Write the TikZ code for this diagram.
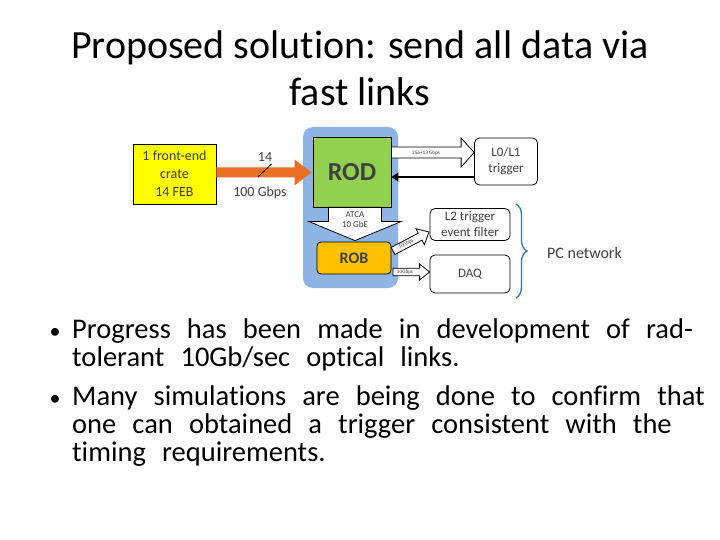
\documentclass[tikz,border=0pt]{standalone}
\usepackage{fontspec}
\setmainfont{Carlito}[Ligatures=NoCommon]
\newfontfamily\bulletfont{Carlito}[Ligatures=NoCommon, WordSpace=2.5]
\usetikzlibrary{positioning,calc,decorations.pathreplacing,arrows.meta}

\definecolor{febyellow}{RGB}{255,255,0}
\definecolor{linkorange}{RGB}{236,112,36}
\definecolor{crateblue}{RGB}{141,180,226}
\definecolor{rodgreen}{RGB}{146,208,80}
\definecolor{roborange}{RGB}{255,192,0}
\definecolor{bracecol}{RGB}{46,117,182}
\definecolor{diagtext}{RGB}{64,64,64}

% fat block arrow: from, to, shaft half width, head half width, head length, options
\newcommand\fatarrow[6]{%
  \coordinate (fa-h) at ($(#2)!#5!(#1)$);
  \draw[#6] ($(#1)!#3!90:(#2)$) -- ($(fa-h)!#3!90:(#2)$) -- ($(fa-h)!#4!90:(#2)$) -- (#2)
    -- ($(fa-h)!#4!-90:(#2)$) -- ($(fa-h)!#3!-90:(#2)$) -- ($(#1)!#3!-90:(#2)$) -- cycle;}

\begin{document}
\begin{tikzpicture}[x=1pt, y=-1pt,
  every node/.style={font=\fontsize{14}{18}\selectfont, text=diagtext},
  unit/.style={draw, line width=0.8pt, align=center, inner sep=0pt},
  pcbox/.style={unit, rounded corners=5pt, fill=white, font=\fontsize{13}{16}\selectfont},
  tinylbl/.style={font=\fontsize{5.2}{6}\selectfont, inner sep=0pt},
  bullettext/.style={font=\bulletfont\fontsize{28.5}{28}\selectfont, text=black, anchor=base west, inner sep=0pt}]
  \useasboundingbox (0,0) rectangle (720,540);
  \fill[white] (0,0) rectangle (720,540);

  % title
  \node[font=\fontsize{40}{47}\selectfont, text=black, align=center] (title) at (360,68)
    {Proposed solution: send all data via\\fast links};

  % diagram
  \node[unit, fill=febyellow, minimum width=83, minimum height=60] (feb) at (174.5,174)
    {1 front-end\\crate\\14 FEB};
  \fill[crateblue, rounded corners=10pt] (303,127) rectangle (398,288);
  \node[unit, fill=rodgreen, minimum width=78, minimum height=70,
    font=\fontsize{26}{28}\selectfont\bfseries] (rod) at (352,172) {ROD};
  \node[unit, fill=roborange, rounded corners=4pt, minimum width=74, minimum height=32,
    font=\fontsize{16}{18}\selectfont\bfseries] (rob) at (354,258) {ROB};
  \node[pcbox, minimum width=63, minimum height=47] (lone) at (506,161.5) {L0/L1\\trigger};
  \node[pcbox, minimum width=80, minimum height=32] (ltwo) at (470,224.5) {L2 trigger\\event filter};
  \node[pcbox, minimum width=80, minimum height=38] (daq) at (470,274) {DAQ};

  % links
  \coordinate (feb-out) at (feb.east |- 0,172.5);
  \coordinate (rod-in) at (311.5,172.5);
  \fatarrow{feb-out}{rod-in}{5pt}{13pt}{17pt}{fill=linkorange, draw=none}
  \draw[line width=0.8pt] (258,177) -- (271.5,164);
  \node at (265,157) {14};
  \node at (260,193) {100 Gbps};

  \coordinate (rod-out) at (rod.east |- 0,152.5);
  \coordinate (lone-in) at (lone.west |- 0,152.5);
  \fatarrow{rod-out}{lone-in}{5.5pt}{14.5pt}{13pt}{fill=white, line width=0.8pt}
  \node[tinylbl] at (426,153) {256+13 Gbps};
  \draw[line width=1.2pt, -{Triangle[length=7pt, width=9pt]}] (lone.west |- 0,177) -- (rod.east |- 0,177);

  \coordinate (rod-down) at ($(rod.south)+(3,0)$);
  \coordinate (rob-top) at ($(rob.north)+(1,-1)$);
  \fatarrow{rod-down}{rob-top}{26.5pt}{46pt}{19pt}{fill=white, line width=0.8pt}
  \node[font=\fontsize{9}{11}\selectfont, align=center] at (355,219.5) {ATCA\\[-1pt]10 GbE};

  \coordinate (rob-ne) at (393,251);
  \coordinate (ltwo-in) at (429,232);
  \fatarrow{rob-ne}{ltwo-in}{4pt}{9pt}{10pt}{fill=white, line width=0.8pt}
  \node[tinylbl, rotate=28] at (406,244) {10Gbps};
  \coordinate (rob-e) at (393,272);
  \coordinate (daq-in) at (daq.west |- 0,272);
  \fatarrow{rob-e}{daq-in}{3.7pt}{8pt}{10pt}{fill=white, line width=0.8pt}
  \node[tinylbl] at (405,272) {10Gbps};

  % PC network
  \draw[bracecol, line width=1.3pt, decorate, decoration={brace, amplitude=11pt}]
    (516,204) -- (516,298) coordinate[midway] (brace-mid);
  \node[font=\fontsize{16}{18}\selectfont, anchor=west, inner sep=0pt] (pcnet) at (547,253) {PC network};

  % bullets
  \foreach \y/\txt [count=\i] in {338/{Progress has been made in development of rad-},
      366/{tolerant 10Gb/sec optical links.},
      405/{Many simulations are being done to confirm that},
      433/{one can obtained a trigger consistent with the},
      461/{timing requirements.}}
    \node[bullettext] (line\i) at (72,\y) {\txt};
  \node[bullettext, font=\fontsize{22}{22}\selectfont, anchor=base] at (55,338) {•};
  \node[bullettext, font=\fontsize{22}{22}\selectfont, anchor=base] at (55,405) {•};
\end{tikzpicture}
\end{document}
